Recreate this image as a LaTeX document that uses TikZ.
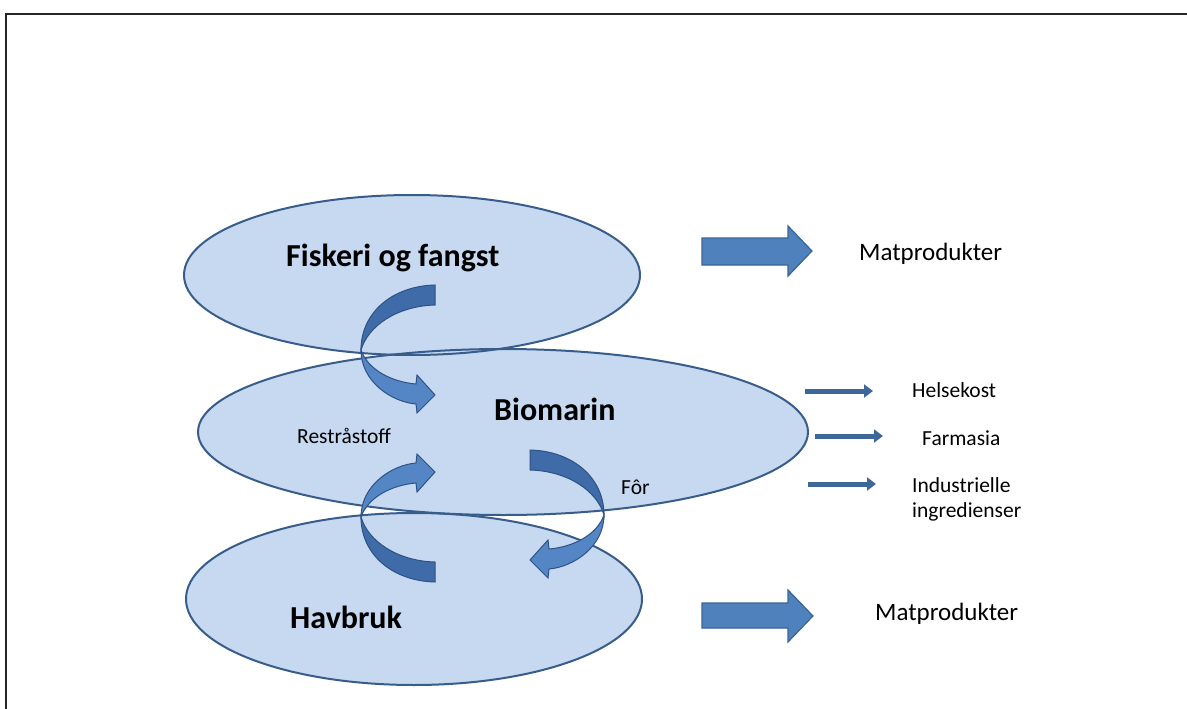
\documentclass[tikz,border=0pt]{standalone}
\usepackage{fontspec}
\setmainfont{Carlito}
\usetikzlibrary{shapes.geometric,arrows.meta}
\definecolor{ellfill}{HTML}{C6D9F1}
\definecolor{elldraw}{HTML}{385D8A}
\definecolor{blkfill}{HTML}{4F81BD}
\definecolor{blkdraw}{HTML}{3A6496}
\definecolor{crvdark}{HTML}{3F6BA8}
\definecolor{crvlight}{HTML}{5485C4}
\definecolor{crvdraw}{HTML}{2F5286}
\definecolor{smallarr}{HTML}{3D6699}
\tikzset{
  ellbox/.style={ellipse, fill=ellfill, inner sep=0pt, outer sep=0pt},
  ellline/.style={draw=elldraw, line width=2pt},
  bigtext/.style={anchor=base west, inner sep=0pt, font=\fontsize{32}{38}\selectfont\bfseries},
  midtext/.style={anchor=base west, inner sep=0pt, font=\fontsize{25}{30}\selectfont},
  smalltext/.style={anchor=base west, inner sep=0pt, font=\fontsize{21.5}{25}\selectfont},
  blockarrow/.style={fill=blkfill, draw=blkdraw, line width=1.2pt, line join=miter},
  crvdarkpart/.style={fill=crvdark, draw=crvdraw, line width=1pt},
  crvlightpart/.style={fill=crvlight, draw=crvdraw, line width=1pt},
  thinarrow/.style={draw=smallarr, line width=5pt, -{Triangle[length=9pt,width=13pt]}},
}
\newcommand{\curvedarrowshape}{%
  \path[crvdarkpart] (435,285) .. controls (393,286) and (361,312) .. (361,350)
     .. controls (368,326) and (397,306) .. (435,305) -- cycle;
  \path[crvlightpart] (361,350) .. controls (361,382) and (392,402) .. (416,404)
     -- (417,413) -- (435,395) -- (417,375) -- (416,384)
     .. controls (392,382) and (368,370) .. (361,350) -- cycle;
}
\begin{document}
\begin{tikzpicture}[x=1pt,y=-1pt]
\useasboundingbox (0,0) rectangle (1187,709);
\fill[white] (0,0) rectangle (1187,709);
% frame
\draw[line width=2pt, color=black!85] (6,709) -- (6,14) -- (1187,14);
% ellipses fills
\node[ellbox, minimum width=456pt, minimum height=160pt] (fisk) at (412,275) {};
\node[ellbox, minimum width=610pt, minimum height=166pt] (bio) at (503,432) {};
\node[ellbox, minimum width=456pt, minimum height=172pt] (hav) at (414,599) {};
% ellipse outlines
\path[ellline] (fisk.center) ellipse [x radius=228, y radius=80];
\path[ellline] (bio.center) ellipse [x radius=305, y radius=83];
\path[ellline] (hav.center) ellipse [x radius=228, y radius=86];
% labels
\node[bigtext] (fisklbl) at (286,266) {Fiskeri og fangst};
\node[bigtext] (biolbl) at (494,420) {Biomarin};
\node[bigtext] (havlbl) at (290,628) {Havbruk};
\node[smalltext] (rest) at (297,443) {Restråstoff};
\node[smalltext] (forlbl) at (621,494) {Fôr};
% curved arrows
\curvedarrowshape
\begin{scope}[shift={(0,867)}, yscale=-1]
\curvedarrowshape
\end{scope}
\begin{scope}[shift={(965,165)}, xscale=-1]
\curvedarrowshape
\end{scope}
% block arrows
\node[midtext] (mat1) at (859,260) {Matprodukter};
\node[midtext] (mat2) at (875,620) {Matprodukter};
\path[blockarrow] (702,238) -- (788,238) -- (788,226) -- (812,251) -- (788,276) -- (788,265) -- (702,265) -- cycle;
\path[blockarrow] (702,603) -- (788,603) -- (788,590) -- (813,616) -- (788,642) -- (788,628) -- (702,628) -- cycle;
% small arrows
\node[smalltext] (helse) at (912,397) {Helsekost};
\node[smalltext] (farma) at (922,445) {Farmasia};
\node[smalltext, align=left, anchor=north west] (indu) at (912,477) {Industrielle\\ingredienser};
\coordinate (h0) at (805,391);
\coordinate (h1) at (873,391);
\coordinate (f0) at (815,436);
\coordinate (f1) at (883,436);
\coordinate (i0) at (808,484);
\coordinate (i1) at (876,484);
\draw[thinarrow] (h0) -- (h1);
\draw[thinarrow] (f0) -- (f1);
\draw[thinarrow] (i0) -- (i1);
\end{tikzpicture}
\end{document}
